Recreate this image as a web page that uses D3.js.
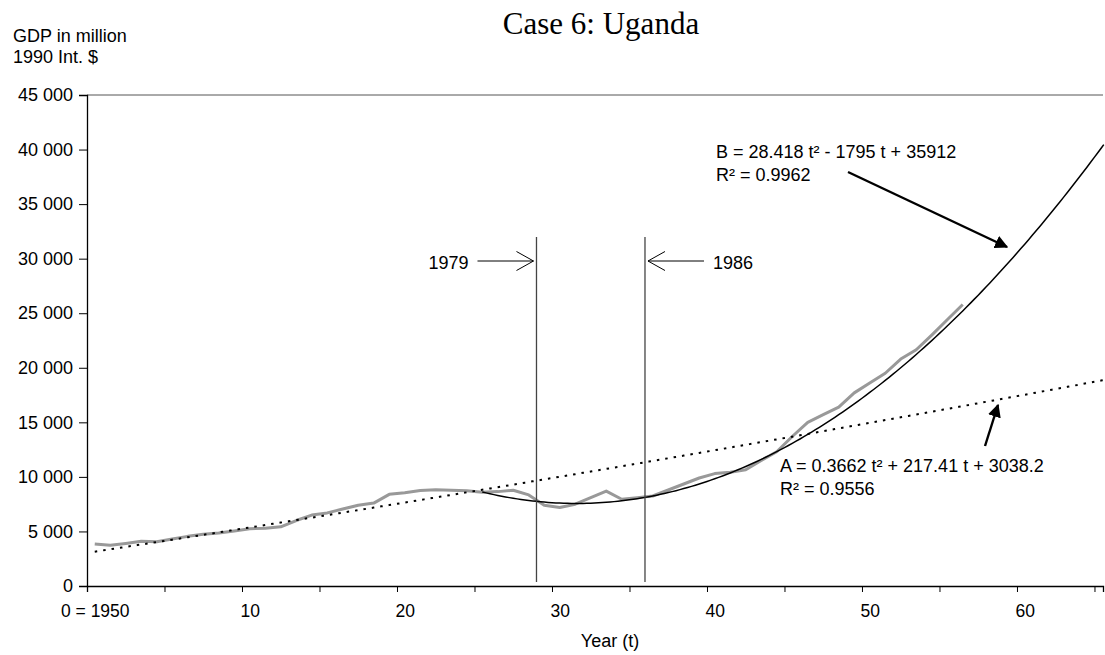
<html>
<head>
<meta charset="utf-8">
<script src="https://d3js.org/d3.v7.min.js"></script>
<style>
  body { margin: 0; background: #fff; }
  text { font-family: "Liberation Sans", Arial, sans-serif; fill: #000; }
</style>
</head>
<body>
<div id="chart"></div>
<script>
// GDP of Uganda, million 1990 Int. $, 1950..2006
var years = d3.range(1950, 2007);
var gdp = [3850, 3730, 3900, 4100, 4050, 4300, 4550, 4750, 4850, 5050,
           5250, 5300, 5420, 6000, 6500, 6700, 7050, 7400, 7600, 8400,
           8550, 8750, 8820, 8780, 8730, 8600, 8650, 8780, 8350, 7400,
           7200, 7500, 8100, 8700, 7950, 8100, 8250, 8800, 9350, 9900,
           10300, 10420, 10650, 11500, 12300, 13700, 15000, 15700, 16400, 17700,
           18600, 19500, 20800, 21650, 23000, 24400, 25800];

// trend coefficients printed on the chart (c2, c1, c0)
var trendA = [0.3662, 217.41, 3038.2];
var trendB = [28.418, -1795, 35912];
var trendARange = [0.5, 65.6];
var trendBRange = [25.5, 65.6];

var yTicks = [0, 5000, 10000, 15000, 20000, 25000, 30000, 35000, 40000, 45000];
var xTicks = [0, 5, 10, 15, 20, 25, 30, 35, 40, 45, 50, 55, 60, 65];
var xLabels = {0: "0 = 1950", 10: "10", 20: "20", 30: "30", 40: "40", 50: "50", 60: "60"};
var events = [{year: 1979, t: 29, side: "left"}, {year: 1986, t: 36, side: "right"}];

(function() {
var width = 1105, height = 655;
var pLeft = 87, pRight = 1103, pTop = 95, pBottom = 586;

var svg = d3.select("#chart").append("svg")
    .attr("width", width)
    .attr("height", height);

var defs = svg.append("defs");
defs.append("marker")
    .attr("id", "fillarrow")
    .attr("viewBox", "0 0 10 10")
    .attr("refX", 9).attr("refY", 5)
    .attr("markerWidth", 5.5).attr("markerHeight", 5.5)
    .attr("orient", "auto")
    .append("path").attr("d", "M0,0 L10,5 L0,10 z").attr("fill", "#000");

var x = d3.scaleLinear().domain([0, 65.55]).range([pLeft, pRight]);
var y = d3.scaleLinear().domain([0, 45000]).range([pBottom, pTop]);
var half = x(0.5) - x(0);   // labels sit in the middle of a category

// top border of plot area
svg.append("line")
    .attr("x1", pLeft).attr("x2", pRight)
    .attr("y1", y(45000)).attr("y2", y(45000))
    .attr("stroke", "#555").attr("stroke-width", 1);

// axes
var yAxis = svg.append("g")
    .attr("transform", "translate(" + pLeft + ",0)")
    .call(d3.axisLeft(y).tickValues(yTicks).tickSize(8).tickPadding(6)
        .tickFormat(function(d) { return d3.format(",")(d).replace(",", " "); }));
yAxis.selectAll("text").style("font-size", "18px");

var xAxis = svg.append("g")
    .attr("transform", "translate(0," + pBottom + ")")
    .call(d3.axisBottom(x).tickValues(xTicks).tickSize(6).tickPadding(13)
        .tickFormat(function(d) { return xLabels[d] || ""; }));
xAxis.selectAll("text").style("font-size", "17.5px").attr("dx", half);
svg.selectAll(".domain").attr("stroke", "#000").attr("stroke-width", 1.3);
svg.selectAll(".tick line").attr("stroke", "#000");

// gdp series
var gdpLine = d3.line()
    .x(function(d, i) { return x(years[i] - 1950 + 0.5); })
    .y(function(d) { return y(d); });

svg.append("path")
    .datum(gdp)
    .attr("d", gdpLine)
    .attr("fill", "none")
    .attr("stroke", "#999")
    .attr("stroke-width", 3)
    .attr("stroke-linejoin", "round");

// trend lines
function poly(c, t) { return c[0] * t * t + c[1] * t + c[2]; }
var trendLine = function(c) {
    return d3.line()
        .x(function(t) { return x(t); })
        .y(function(t) { return y(poly(c, t)); });
};

svg.append("path")
    .datum(d3.range(trendARange[0], trendARange[1], 0.25).concat([trendARange[1]]))
    .attr("d", trendLine(trendA))
    .attr("fill", "none")
    .attr("stroke", "#000")
    .attr("stroke-width", 2)
    .attr("stroke-dasharray", "2.5,6");

svg.append("path")
    .datum(d3.range(trendBRange[0], trendBRange[1], 0.25).concat([trendBRange[1]]))
    .attr("d", trendLine(trendB))
    .attr("fill", "none")
    .attr("stroke", "#000")
    .attr("stroke-width", 1.5);

// event lines 1979 / 1986
var evY = 261;
events.forEach(function(e) {
    var ex = x(e.t);
    svg.append("line")
        .attr("x1", ex).attr("x2", ex)
        .attr("y1", 237).attr("y2", pBottom - 4)
        .attr("stroke", "#444").attr("stroke-width", 1.3);
    var dir = e.side === "left" ? -1 : 1;
    var tip = ex + dir * 3, tail = ex + dir * 59;
    svg.append("line")
        .attr("x1", tail).attr("x2", tip)
        .attr("y1", evY).attr("y2", evY)
        .attr("stroke", "#000").attr("stroke-width", 1);
    svg.append("path")
        .attr("d", "M" + (tip + dir * 17) + "," + (evY - 9.5) + " L" + tip + "," + evY + " L" + (tip + dir * 17) + "," + (evY + 9.5))
        .attr("fill", "none").attr("stroke", "#000").attr("stroke-width", 1);
    svg.append("text")
        .attr("x", tail + dir * 9)
        .attr("y", evY + 8)
        .attr("text-anchor", e.side === "left" ? "end" : "start")
        .style("font-size", "18px")
        .text(e.year);
});

// equation labels
function label(xp, yp, lines) {
    lines.forEach(function(s, i) {
        svg.append("text")
            .attr("x", xp).attr("y", yp + i * 23)
            .style("font-size", "18px")
            .text(s);
    });
}
label(716, 158, ["B = 28.418 t\u00b2 - 1795 t + 35912", "R\u00b2 = 0.9962"]);
label(780, 472, ["A = 0.3662 t\u00b2 + 217.41 t + 3038.2", "R\u00b2 = 0.9556"]);

svg.append("line")
    .attr("x1", 848).attr("y1", 172).attr("x2", 1007).attr("y2", 247)
    .attr("stroke", "#000").attr("stroke-width", 2.4)
    .attr("marker-end", "url(#fillarrow)");
svg.append("line")
    .attr("x1", 985).attr("y1", 446).attr("x2", 998).attr("y2", 405)
    .attr("stroke", "#000").attr("stroke-width", 2.4)
    .attr("marker-end", "url(#fillarrow)");

// titles
svg.append("text")
    .attr("x", 601).attr("y", 34)
    .attr("text-anchor", "middle")
    .style("font-family", "'Liberation Serif', 'Times New Roman', serif")
    .style("font-size", "31px")
    .text("Case 6: Uganda");

svg.append("text").attr("x", 13).attr("y", 42).style("font-size", "18px").text("GDP in million");
svg.append("text").attr("x", 13).attr("y", 63).style("font-size", "18px").text("1990 Int. $");

svg.append("text")
    .attr("x", 610).attr("y", 647)
    .attr("text-anchor", "middle")
    .style("font-size", "18px")
    .text("Year (t)");
})();
</script>
</body>
</html>
